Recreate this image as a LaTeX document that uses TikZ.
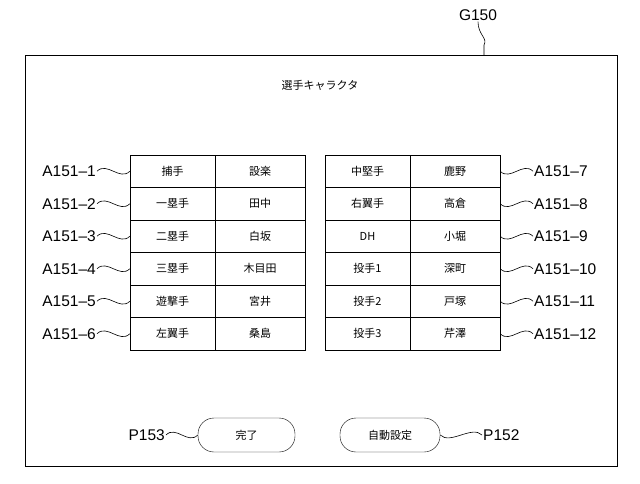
\documentclass[tikz,border=0pt]{standalone}
\usepackage{fontspec}
\setmainfont{Noto Sans CJK JP}
\newfontfamily\latf{Liberation Sans}
\begin{document}
\begin{tikzpicture}[x=1pt,y=-1pt,
  cell/.style={draw,minimum height=32.5pt,inner sep=0pt,font=\fontsize{11}{13}\selectfont},
  lbl/.style={font=\latf\fontsize{15.5}{17}\selectfont,inner sep=1pt},
  btn/.style={draw,rounded corners=16pt,minimum height=34pt,inner sep=0pt,font=\fontsize{11}{13}\selectfont},
  sq/.style={line width=0.6pt}]
\useasboundingbox (0,0) rectangle (640,484);
\draw[line width=0.8pt] (25,55) rectangle (617,466);
\node[lbl] (g) at (478,15) {G150};
\coordinate (gb) at (484,55);
\draw[sq] (g.south) .. controls (478,35) and (488,38) .. (484,45) -- (gb);
\node[font=\fontsize{11}{13}\selectfont] (title) at (320,85) {選手キャラクタ};
\foreach \i/\a/\b/\c/\d in {1/捕手/設楽/中堅手/鹿野,2/一塁手/田中/右翼手/高倉,3/二塁手/白坂/DH/小堀,4/三塁手/木目田/投手1/深町,5/遊撃手/宮井/投手2/戸塚,6/左翼手/桑島/投手3/芹澤}{
  \pgfmathsetmacro\y{155+32.5*(\i-1)+16.25}
  \node[cell,minimum width=85pt] (la\i) at (172.5,\y) {\a};
  \node[cell,minimum width=90pt] (lb\i) at (260,\y) {\b};
  \node[cell,minimum width=85pt] (ra\i) at (367.5,\y) {\c};
  \node[cell,minimum width=90pt] (rb\i) at (455,\y) {\d};
  \pgfmathtruncatemacro\r{\i+6}
  \node[lbl,anchor=east] (ll\i) at (97,\y) {A151–\i};
  \node[lbl,anchor=west] (rl\i) at (533,\y) {A151–\r};
  \draw[sq] (ll\i.east) .. controls +(10,-10) and +(-10,10) .. (la\i.west);
  \draw[sq] (rb\i.east) .. controls +(10,10) and +(-10,-10) .. (rl\i.west);
}
\node[btn,minimum width=97pt] (done) at (246.5,435) {完了};
\node[btn,minimum width=100pt] (auto) at (390,435) {自動設定};
\node[lbl,anchor=east] (p153) at (166,435) {P153};
\node[lbl,anchor=west] (p152) at (482,435) {P152};
\draw[sq] (p153.east) .. controls +(10,-10) and +(-10,10) .. (done.west);
\draw[sq] (auto.east) .. controls +(10,10) and +(-10,-10) .. (p152.west);
\end{tikzpicture}
\end{document}
